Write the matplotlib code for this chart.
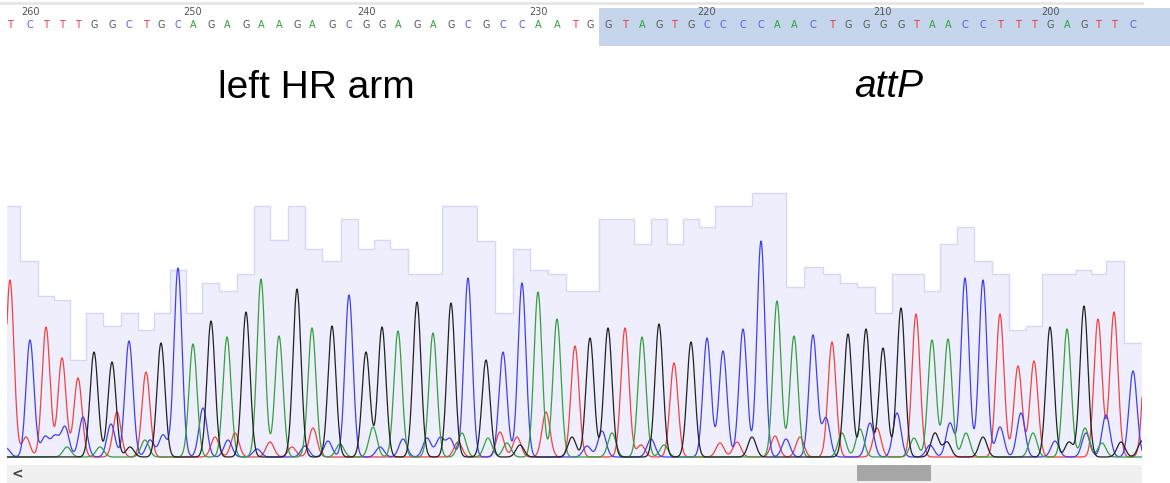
import numpy as np
import matplotlib.pyplot as plt

# base calls (numbering runs 261 -> 195)
seq = "TCTTTGGCTGCAGAGAAGAGCGGAGAGCGCCAATGGTAGTGCCCCAACTGGGGTAACCTTTGAGTTC"
first_num = 261
attp_start = 35          # first base of the attP part

# peak positions (scan units) and main peak heights
peak_pos = [10, 30, 46, 62, 78, 94, 112, 129, 146, 161, 178, 193, 211, 227, 246,
            261, 279, 297, 312, 332, 349, 366, 382, 398, 417, 433, 451, 468, 486,
            503, 522, 538, 557, 575, 590, 608, 625, 642, 659, 674, 691, 707, 723,
            743, 761, 777, 794, 813, 832, 848, 866, 883, 901, 916, 932, 948, 965,
            983, 1000, 1018, 1034, 1050, 1067, 1084, 1098, 1114, 1133]
peak_h = [177, 117, 130, 99, 79, 105, 95, 116, 85, 114, 189, 113, 136, 120, 145,
          178, 121, 168, 129, 131, 162, 105, 130, 126, 155, 124, 154, 179, 97,
          105, 174, 165, 138, 111, 119, 129, 129, 120, 133, 94, 115, 119, 106,
          128, 216, 156, 121, 122, 115, 123, 128, 109, 149, 143, 117, 118, 179,
          177, 143, 91, 96, 130, 128, 151, 138, 145, 86]
quality = [251, 196, 161, 157, 97, 144, 131, 144, 127, 144, 187, 144, 174, 166, 183,
           251, 217, 251, 208, 196, 238, 208, 217, 208, 183, 183, 251, 251, 216,
           144, 208, 187, 183, 166, 166, 238, 238, 213, 238, 213, 238, 230, 251,
           251, 264, 264, 170, 190, 183, 174, 170, 144, 183, 183, 166, 213, 230,
           196, 183, 127, 131, 183, 183, 187, 183, 196, 114]

# small background peaks per channel (position, height)
minor_A = [(67, 10), (100, 10), (145, 17), (340, 13), (373, 30), (462, 24), (488, 19),
           (507, 14), (612, 24), (664, 12), (842, 24), (860, 28), (914, 19), (966, 24),
           (1033, 24), (1085, 29), (1102, 14)]
minor_C = [(6, 9), (45, 20), (55, 20), (65, 30), (83, 40), (111, 33), (150, 17),
           (163, 22), (203, 49), (228, 17), (257, 8), (305, 11), (328, 16), (380, 10),
           (403, 18), (427, 19), (440, 19), (450, 18), (587, 11), (602, 26), (651, 18),
           (786, 18), (826, 39), (870, 34), (897, 44), (930, 12), (950, 34), (1000, 30),
           (1021, 44), (1055, 16), (1086, 24), (1106, 42)]
minor_T = [(26, 20), (117, 45), (215, 20), (235, 24), (270, 15), (292, 10), (313, 29),
           (458, 15), (500, 25), (517, 20), (546, 45), (641, 12), (720, 14), (737, 15),
           (775, 21), (800, 20), (877, 29), (1147, 130)]
minor_G = [(130, 10), (520, 12), (572, 20), (752, 20), (935, 24), (947, 15), (983, 20),
           (1069, 15), (1121, 15), (1142, 16)]

trace_col = {'A': '#34a03e', 'C': '#4040f2', 'G': '#222222', 'T': '#f24242'}
letter_col = {'A': '#2e9e3a', 'C': '#5a5af5', 'G': '#555555', 'T': '#ee3344'}
minor = {'A': minor_A, 'C': minor_C, 'G': minor_G, 'T': minor_T}

W, H = 1170, 483
fig = plt.figure(figsize=(W / 100, H / 100), dpi=100)
fig.patch.set_facecolor('white')

def px_axes(x0, y0, x1, y1):
    # axes from pixel box (top-left origin)
    return fig.add_axes([x0 / W, 1 - y1 / H, (x1 - x0) / W, (y1 - y0) / H])

# ---- sequence strip
ax_s = px_axes(0, 0, W, 50)
ax_s.set_xlim(0, W)
ax_s.set_ylim(50, 0)
ax_s.axis('off')
ax_s.plot([0, 1142], [3, 3], color='#e6e6e6', lw=2)
shade_x = (peak_pos[attp_start - 1] + peak_pos[attp_start]) / 2
ax_s.fill_between([shade_x, W], 8, 46, color='#c5d5ec', lw=0)
for i, b in enumerate(seq):
    ax_s.text(peak_pos[i], 25, b, color=letter_col[b], fontsize=7,
              ha='center', va='center', family='DejaVu Sans')
    n = first_num - i
    if n % 10 == 0:
        ax_s.text(peak_pos[i], 12, str(n), color='#555555', fontsize=7,
                  ha='center', va='center')

# ---- labels
fig.text(316 / W, 1 - 98 / H, 'left HR arm', fontsize=28, family='Liberation Sans',
         ha='center', va='baseline')
fig.text(889 / W, 1 - 97 / H, 'attP', fontsize=28, family='Liberation Sans',
         style='italic', ha='center', va='baseline')

# ---- chromatogram
ax = px_axes(7, 190, 1142, 458)
ax.set_xlim(7, 1142)
ax.set_ylim(-1, 267)
ax.axis('off')

pos = np.array(peak_pos, dtype=float)
mids = (pos[1:] + pos[:-1]) / 2
edges = np.concatenate([[pos[0] - (pos[1] - pos[0]) / 2], mids,
                        [pos[-1] + (pos[-1] - pos[-2]) / 2]])
ax.stairs(quality, edges, fill=True, color='#eeeefc', baseline=-1)
ax.stairs(quality, edges, color='#d6d6f6', lw=1, baseline=-1)

sigma = 4.0
xs = np.linspace(7, 1142, 4000)
for b in 'TCAG':
    peaks = [(p, h) for p, h, s in zip(peak_pos, peak_h, seq) if s == b] + minor[b]
    y = np.zeros_like(xs)
    for p, h in peaks:
        y += h * np.exp(-(xs - p) ** 2 / (2 * sigma ** 2))
    ax.plot(xs, y, color=trace_col[b], lw=0.9)

# ---- scrollbar
scroll_start, scroll_width = 0.749, 0.065
ax_b = px_axes(7, 465, 1142, 483)
ax_b.set_facecolor('#f0f0f0')
ax_b.set_xlim(0, 1)
ax_b.set_ylim(0, 1)
for sp in ax_b.spines.values():
    sp.set_visible(False)
ax_b.set_xticks([])
ax_b.set_yticks([])
ax_b.axvspan(scroll_start, scroll_start + scroll_width, 0.1, 1, color='#a6a6a6', lw=0)
ax_b.text(0.004, 0.45, '<', fontsize=10, color='#404040', ha='left', va='center',
          fontweight='bold')

fig.savefig('out.png', dpi=100)
